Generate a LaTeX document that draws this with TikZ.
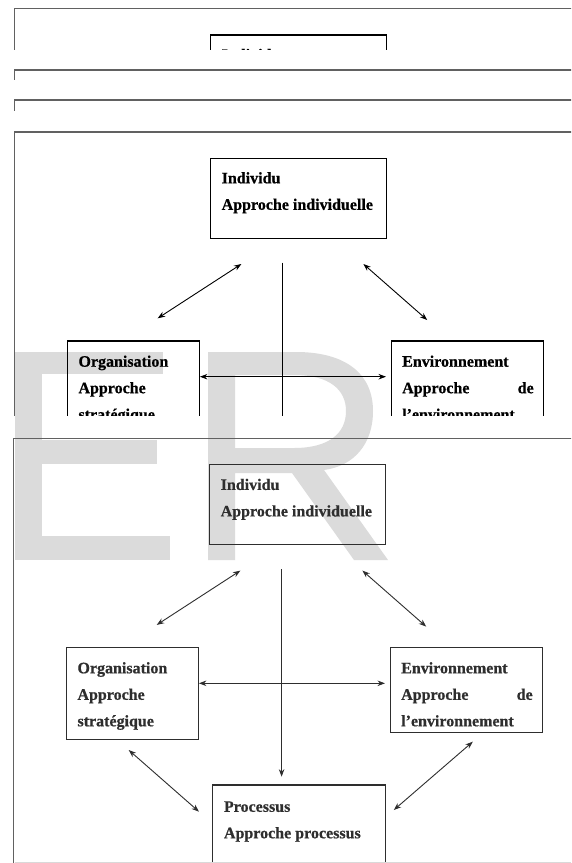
\documentclass[tikz,border=0pt]{standalone}
\usepackage{fontspec}
\setmainfont{Liberation Serif}[BoldFeatures={FakeBold=0.6}]
\usetikzlibrary{arrows.meta,calc}
\colorlet{ink}{black}
\definecolor{wm}{RGB}{219,219,219}
\tikzset{
  border/.style={draw=black!62, line width=1.6pt},
  box/.style={draw=ink, line width=1.1pt, rectangle, inner sep=0pt},
  txt/.style={text=ink, font=\bfseries\fontsize{16}{26.5}\selectfont, align=left, inner sep=0pt},
  conn/.style={draw=ink, line width=0.9pt},
  >={Stealth[length=7.5pt,width=5.5pt]},
}
% panel frame (top and left lines)
\newcommand\drawframe[1]{%
  \coordinate (#1c) at (14.6,0);
  \coordinate (#1r) at (590,0);
  \coordinate (#1b) at (14.6,480);
  \draw[border] (#1b) -- (#1c) -- (#1r);
}
% upper box (text nodes are anchored at the baseline of their last line)
\newcommand\drawtop[1]{%
  \node[box, minimum width=176.2pt, minimum height=80pt] (#1ind) at (298.6,66.6) {};
  \node[txt, anchor=base west] (#1indt) at (221.5,78.1) {Individu\\Approche individuelle};
}
% middle row
\newcommand\drawmid[1]{%
  \node[box, minimum width=132.5pt, minimum height=91.7pt] (#1org) at (133.65,255.15) {};
  \node[txt, anchor=base west] (#1orgt) at (78.3,288) {Organisation\\Approche\\stratégique};
  \node[box, minimum width=152pt, minimum height=85.2pt] (#1env) at (467.5,251.9) {};
  \node[txt, anchor=base west] (#1envt) at (402,288) {Environnement\\\makebox[131.5pt][s]{Approche\hfill de}\\l’environnement};
  \coordinate (#1dla) at (241.4,132.3);
  \coordinate (#1dlb) at (157.7,186.6);
  \coordinate (#1dra) at (363.4,132.3);
  \coordinate (#1drb) at (427.2,188.3);
  \coordinate (#1vt) at (282.6,131);
  \coordinate (#1vb) at (282.6,338.4);
  \coordinate (#1hl) at (199.9,245);
  \coordinate (#1hr) at (386,245);
  \draw[conn,<->] (#1dla) -- (#1dlb);
  \draw[conn,<->] (#1dra) -- (#1drb);
  \draw[conn,->] (#1vt) -- (#1vb);
  \draw[conn,<->] (#1hl) -- (#1hr);
}
% bottom box
\newcommand\drawbottom[1]{%
  \node[box, minimum width=172.6pt, minimum height=133.3pt] (#1pro) at (300.1,413.35) {};
  \node[txt, anchor=base west] (#1prot) at (224.8,400) {Processus\\Approche processus};
  \coordinate (#1lla) at (129.7,311.7);
  \coordinate (#1llb) at (200,373.4);
  \coordinate (#1lra) at (473.8,303.4);
  \coordinate (#1lrb) at (394.8,371.7);
  \draw[conn,<->] (#1lla) -- (#1llb);
  \draw[conn,<->] (#1lra) -- (#1lrb);
}
\begin{document}
\begin{tikzpicture}[x=1pt,y=-1pt]
\useasboundingbox (0,0) rectangle (571,863);
\fill[white] (0,0) rectangle (571,863);
% watermark
\fill[wm] (15,352) rectangle (42,560);
\fill[wm] (15,352) rectangle (163,374);
\fill[wm] (15,440) rectangle (157,464);
\fill[wm] (15,536) rectangle (170,560);
\fill[wm, even odd rule] (208,352) -- (296,352) .. controls (346,352) and (373,374) .. (373,411) .. controls (373,444) and (354,466) .. (324,470) -- (388,560) -- (354,560) -- (292,473) -- (235,473) -- (235,560) -- (208,560) -- cycle
  (235,375) -- (294,375) .. controls (330,375) and (346,390) .. (346,411) .. controls (346,434) and (328,448) .. (294,448) -- (235,448) -- cycle;
% panel 1
\begin{scope}
  \clip (0,0) rectangle (571,49.5);
  \begin{scope}[shift={(0,8.4)}]\drawframe{pa}\drawtop{pa}\end{scope}
\end{scope}
% panel 2
\begin{scope}
  \clip (0,60) rectangle (571,79);
  \begin{scope}[shift={(0,70)}]\drawframe{pb}\end{scope}
\end{scope}
% panel 3
\begin{scope}
  \clip (0,90) rectangle (571,110);
  \begin{scope}[shift={(0,100)}]\drawframe{pc}\end{scope}
\end{scope}
% panel 4
\begin{scope}
  \clip (0,120) rectangle (571,415.5);
  \begin{scope}[shift={(0,131.7)}]\drawframe{pd}\drawtop{pd}\drawmid{pd}\end{scope}
\end{scope}
% panel 5
\begin{scope}
  \colorlet{ink}{black!82}
  \clip (0,425) rectangle (571,863);
  \begin{scope}[shift={(-1,438.3)}]\drawframe{pe}\drawtop{pe}\drawmid{pe}\drawbottom{pe}\end{scope}
\end{scope}
\coordinate (bl) at (14.6,862);
\coordinate (br) at (571,862);
\draw[black!15, line width=1pt] (bl) -- (br);
\end{tikzpicture}
\end{document}
